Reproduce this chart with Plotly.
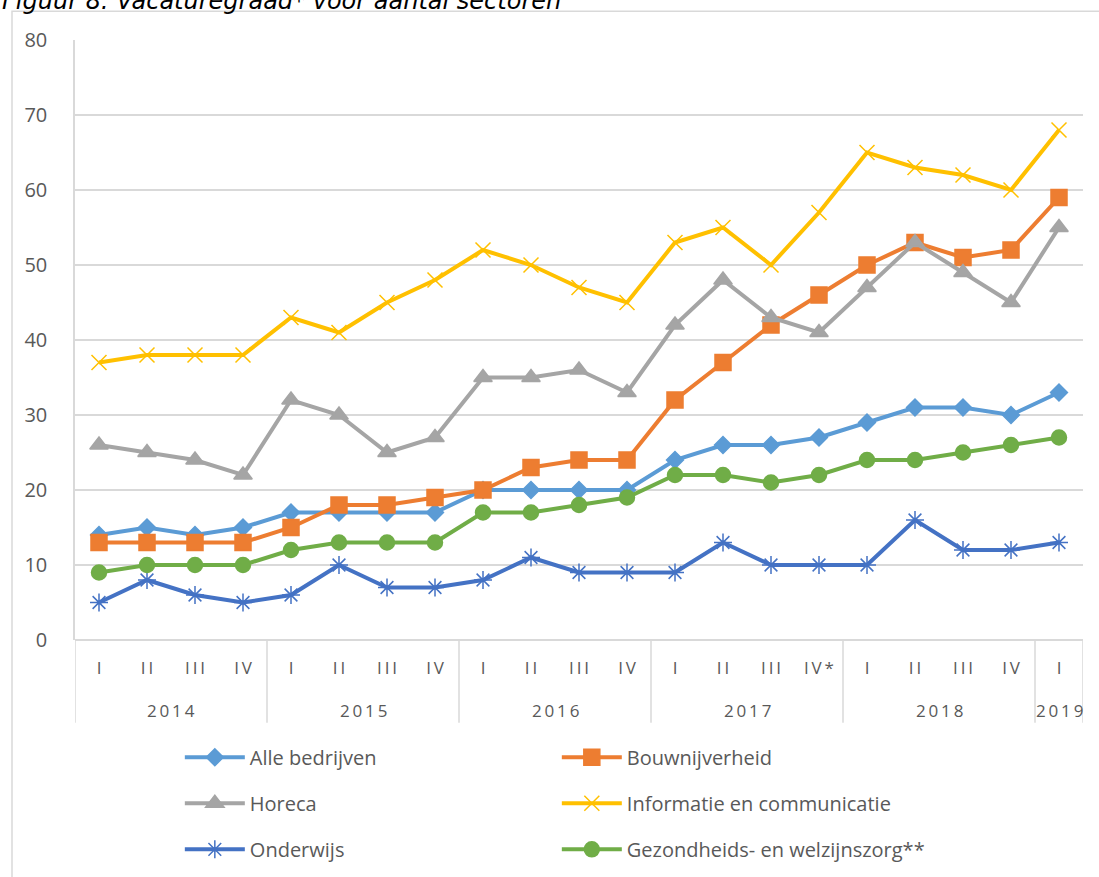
import plotly.graph_objects as go

years = ["2014"] * 4 + ["2015"] * 4 + ["2016"] * 4 + ["2017"] * 4 + ["2018"] * 4 + ["2019"]
quarters = ["I", "II", "III", "IV"] * 3 + ["I", "II", "III", "IV*"] + ["I", "II", "III", "IV"] + ["I"]

alle_bedrijven = [14, 15, 14, 15, 17, 17, 17, 17, 20, 20, 20, 20, 24, 26, 26, 27, 29, 31, 31, 30, 33]
bouwnijverheid = [13, 13, 13, 13, 15, 18, 18, 19, 20, 23, 24, 24, 32, 37, 42, 46, 50, 53, 51, 52, 59]
horeca = [26, 25, 24, 22, 32, 30, 25, 27, 35, 35, 36, 33, 42, 48, 43, 41, 47, 53, 49, 45, 55]
informatie = [37, 38, 38, 38, 43, 41, 45, 48, 52, 50, 47, 45, 53, 55, 50, 57, 65, 63, 62, 60, 68]
onderwijs = [5, 8, 6, 5, 6, 10, 7, 7, 8, 11, 9, 9, 9, 13, 10, 10, 10, 16, 12, 12, 13]
gezondheid = [9, 10, 10, 10, 12, 13, 13, 13, 17, 17, 18, 19, 22, 22, 21, 22, 24, 24, 25, 26, 27]

# spread letters a bit like the Excel axis labels
sp = lambda s: "\u2009".join(s)
cats = [f"{y} {q}" for y, q in zip(years, quarters)]

FONT = "'Open Sans', Calibri, sans-serif"
GREY = "#595959"
LINE = "#D9D9D9"

series = [
    ("Alle bedrijven", alle_bedrijven, "#5B9BD5", "diamond", 13, "legend"),
    ("Bouwnijverheid", bouwnijverheid, "#ED7D31", "square", 16, "legend2"),
    ("Horeca", horeca, "#A5A5A5", "triangle-up", 16, "legend"),
    ("Informatie en communicatie", informatie, "#FFC000", "x-thin-open", 15, "legend2"),
    ("Onderwijs", onderwijs, "#4472C4", "asterisk-open", 15, "legend"),
    ("Gezondheids- en welzijnszorg**", gezondheid, "#70AD47", "circle", 15, "legend2"),
]

fig = go.Figure()
for name, vals, col, sym, size, leg in series:
    fig.add_trace(go.Scatter(
        x=cats, y=vals, name=name, mode="lines+markers",
        line=dict(color=col, width=4),
        marker=dict(symbol=sym, size=size, color=col, line=dict(color=col, width=1.5)),
        legend=leg, legendgroup=name,
    ))

# year groups: label in the middle, dividers on the group edges
groups = []
for i, y in enumerate(years):
    if not groups or groups[-1][0] != y:
        groups.append([y, i, i])
    groups[-1][2] = i

shapes = [dict(
    type="rect", xref="paper", yref="paper",
    x0=-0.0625, x1=1.1, y0=-0.6, y1=1.048,
    line=dict(color=LINE, width=1.5), layer="below",
)]
annotations = [dict(
    text="<i>Figuur 8: Vacaturegraad* voor aantal sectoren</i>",
    xref="paper", yref="paper", x=-0.0745, y=1.0653, xanchor="left", yanchor="middle",
    showarrow=False, font=dict(family="DejaVu Sans", size=24, color="#000000"),
)]
for y, a, b in groups:
    annotations.append(dict(
        text=sp(y), xref="x", yref="paper", x=(a + b) / 2, y=-0.117,
        xanchor="center", yanchor="middle", showarrow=False,
        font=dict(family=FONT, size=17, color=GREY),
    ))
edges = [a - 0.5 for _, a, _ in groups] + [len(years) - 0.5]
for e in edges:
    shapes.append(dict(
        type="line", xref="x", yref="paper", x0=e, x1=e, y0=-0.138, y1=0,
        line=dict(color=LINE, width=1.5),
    ))

leg_common = dict(
    orientation="v", xanchor="left", yanchor="top", itemwidth=60,
    font=dict(family=FONT, size=20, color=GREY), tracegroupgap=17,
    bgcolor="rgba(0,0,0,0)",
)

fig.update_layout(
    width=1099, height=877,
    margin=dict(l=75, r=16, t=40, b=237, autoexpand=False),
    paper_bgcolor="white", plot_bgcolor="white",
    font=dict(family=FONT, size=18, color=GREY),
    xaxis=dict(
        type="category", range=[-0.5, len(cats) - 0.5],
        tickvals=cats, ticktext=[sp(q) for q in quarters],
        showgrid=False, showline=False, zeroline=False,
        tickfont=dict(size=17, color=GREY), ticks="", ticklabelstandoff=16,
    ),
    yaxis=dict(
        range=[0, 80], dtick=10, showgrid=True, gridcolor=LINE, gridwidth=1.5,
        zeroline=True, zerolinecolor=LINE, zerolinewidth=1.5,
        showline=True, linecolor=LINE, linewidth=1.5,
        tickfont=dict(size=20, color=GREY), ticklabelstandoff=22,
    ),
    legend=dict(x=0.104, y=-0.163, **leg_common),
    legend2=dict(x=0.478, y=-0.163, **leg_common),
    shapes=shapes,
    annotations=annotations,
)

fig.write_html("out.html", config={"displayModeBar": False},
               post_script="document.body.style.margin='0';")
